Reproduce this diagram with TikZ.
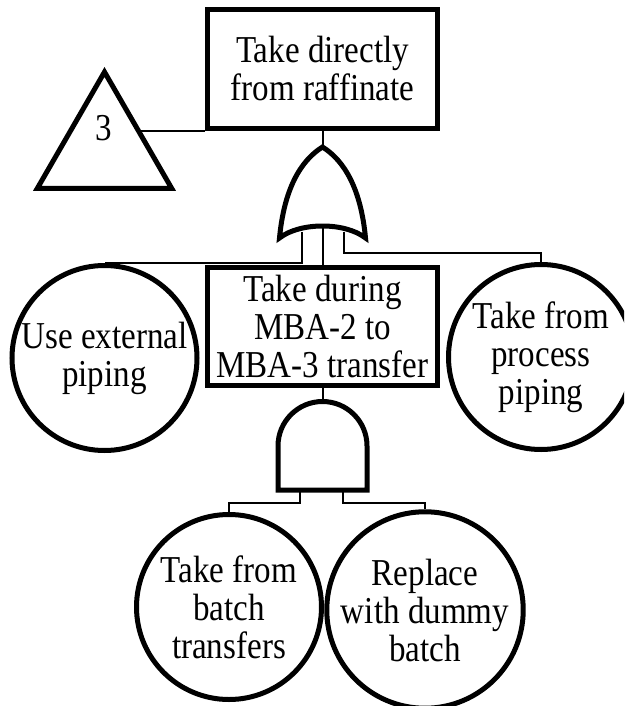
\documentclass[tikz,border=0pt]{standalone}
\usepackage{fontspec}
\setmainfont{Liberation Serif}[FakeStretch=0.87]
\usetikzlibrary{shapes.geometric}
\pgfdeclarelayer{wires}
\pgfsetlayers{wires,main}
\begin{document}
\begin{tikzpicture}[x=1pt,y=-1pt,
  txt/.style={font=\fontsize{38}{38}\selectfont, align=center},
  event/.style={txt, draw, line width=5pt, fill=white, minimum width=230pt,
                minimum height=118pt, inner sep=0pt},
  basic/.style={txt, draw, circle, line width=5pt, fill=white,
                minimum size=185pt, inner sep=0pt},
  transfer/.style={draw, regular polygon, regular polygon sides=3,
                line width=5pt, fill=white, minimum size=155pt, inner sep=0pt},
  gate/.style={draw, line width=5pt, fill=white},
  wire/.style={line width=2pt}]
\useasboundingbox (0,0) rectangle (624,706);
\clip (0,0) rectangle (624,706);

% events
\node[event] (top) at (322.5,69) {Take directly\\from raffinate};
\node[event] (mid) at (322.5,326.5) {Take during\\MBA-2 to\\MBA-3 transfer};

% transfer symbol
\node[transfer] (trans) at (104.5,149.5) {};
\node[txt] (trans-id) at (104,128) {3};

% basic events
\node[basic] (ext) at (104.5,358) {Use external\\piping};
\node[basic] (proc) at (541,357) {Take from\\process\\piping};
\node[basic] (batch) at (229,607) {Take from\\batch\\transfers};
\node[basic] (dummy) at (425,610) {Replace\\with dummy\\batch};

% OR gate
\draw[gate] (279.5,238) .. controls (284,190) and (300,161) .. (322.5,147)
  .. controls (345,161) and (361,190) .. (365.5,238)
  .. controls (345,222) and (300,222) .. cycle;
\coordinate (or-out) at (322.5,147);
\coordinate (or-in1) at (302,232);
\coordinate (or-in2) at (322.5,228);
\coordinate (or-in3) at (344,232);

% AND gate
\draw[gate] (278,490) -- (278,446) arc[start angle=180, end angle=0, radius=44.5pt]
  -- (367,490) -- cycle;
\coordinate (and-out) at (322.5,401.5);
\coordinate (and-in1) at (300,490);
\coordinate (and-in2) at (343,490);

% connectors
\begin{pgfonlayer}{wires}
\draw[wire] (top.south) -- (or-out);
\draw[wire] (top.south west) -- (trans.center |- top.south west);
\draw[wire] (or-in1) |- (ext.north);
\draw[wire] (or-in2) -- (mid.north);
\draw[wire] (or-in3) -- ++(0,21) -| (proc.north);
\draw[wire] (mid.south) -- (and-out);
\draw[wire] (and-in1) -- ++(0,13) -| (batch.north);
\draw[wire] (and-in2) -- ++(0,13) -| (dummy.north);
\end{pgfonlayer}
\end{tikzpicture}
\end{document}
